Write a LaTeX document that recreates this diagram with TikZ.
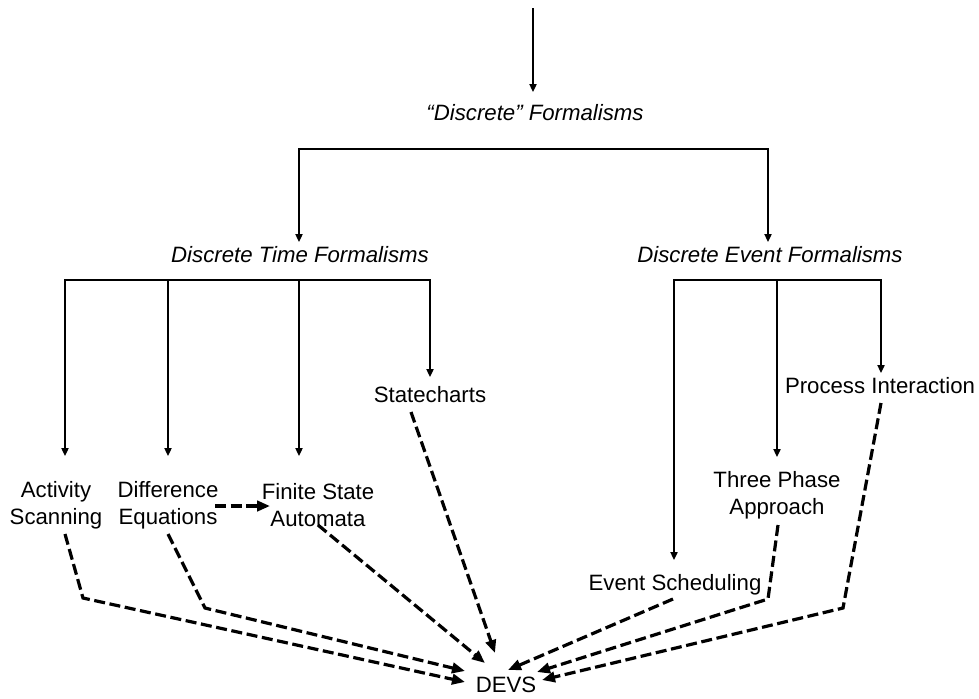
\documentclass[tikz,border=0pt]{standalone}
\usepackage{fontspec}
\setmainfont{Liberation Sans}
\usetikzlibrary{arrows.meta,calc}
\begin{document}
\begin{tikzpicture}[x=0.5pt,y=-0.5pt,
  lbl/.style={inner sep=0pt,align=center,font=\fontsize{11.1pt}{13.75pt}\selectfont},
  ilbl/.style={lbl,font=\fontsize{11.1pt}{13.75pt}\selectfont\itshape},
  sline/.style={line width=0.8pt,line cap=rect},
  sarrow/.style={line width=0.8pt,-{Triangle[length=4pt,width=3.6pt]}},
  darrow/.style={line width=1.6pt,dash pattern=on 5.5pt off 2.3pt,-{Triangle[length=6.5pt,width=5.2pt]}}]
\useasboundingbox (0,0) rectangle (979,698);

% text nodes
\node[ilbl] (disc) at (535,113) {“Discrete” Formalisms};
\node[ilbl] (dtf) at (300,255) {Discrete Time Formalisms};
\node[ilbl] (def) at (770,255) {Discrete Event Formalisms};
\node[lbl] (act) at (56,505) {Activity\\Scanning};
\node[lbl] (deq) at (168,505) {Difference\\Equations};
\node[lbl] (fsa) at (318,505) {Finite State\\Automata};
\node[lbl] (sc) at (430,395) {Statecharts};
\node[lbl] (es) at (675,585) {Event Scheduling};
\node[lbl] (tpa) at (777,495) {Three Phase\\Approach};
\node[lbl] (pi) at (880,386) {Process Interaction};
\node[lbl] (devs) at (506,685) {DEVS};

% top arrow
\coordinate (top) at (533,8);
\draw[sarrow] (top) -- ($(disc)+(-2,-21)$);

% first branching
\coordinate (b1l) at (299,149);
\coordinate (b1r) at (768,149);
\draw[sline] (b1l) -- (b1r);
\draw[sarrow] (b1l) -- ($(dtf)+(-1,-13)$);
\draw[sarrow] (b1r) -- ($(def)+(-2,-13)$);

% discrete time branching
\coordinate (b2l) at (65,280);
\coordinate (b2a) at (168,280);
\coordinate (b2b) at (299,280);
\coordinate (b2r) at (430,280);
\draw[sline] (b2l) -- (b2r);
\draw[sarrow] (b2l) -- ($(act)+(9,-49)$);
\draw[sarrow] (b2a) -- ($(deq)+(0,-49)$);
\draw[sarrow] (b2b) -- ($(fsa)+(-19,-49)$);
\draw[sarrow] (b2r) -- ($(sc)+(0,-18)$);

% discrete event branching
\coordinate (b3l) at (674,280);
\coordinate (b3m) at (777,280);
\coordinate (b3r) at (881,280);
\draw[sline] (b3l) -- (b3r);
\draw[sarrow] (b3l) -- ($(es)+(-1,-25)$);
\draw[sarrow] (b3m) -- ($(tpa)+(0,-38)$);
\draw[sarrow] (b3r) -- ($(pi)+(1,-13)$);

% dashed connectors to DEVS
\draw[darrow] ($(act)+(9,29)$) -- (83,598) -- ($(devs)+(-41,-3)$);
\draw[darrow] ($(deq)+(0,29)$) -- (205,608) -- ($(devs)+(-41,-14)$);
\draw[darrow] ($(fsa)+(0,20)$) -- ($(devs)+(-21,-22)$);
\draw[darrow] ($(sc)+(-19,17)$) -- ($(devs)+(-11,-32)$);
\draw[darrow] ($(es)+(-2,14)$) -- ($(devs)+(2,-15)$);
\draw[darrow] ($(tpa)+(1,30)$) -- (768,599) -- ($(devs)+(31,-13)$);
\draw[darrow] ($(pi)+(1,17)$) -- (843,608) -- ($(devs)+(36,-5)$);
\draw[darrow] ($(deq)+(47,1)$) -- ($(fsa)+(-48,1)$);
\end{tikzpicture}
\end{document}
